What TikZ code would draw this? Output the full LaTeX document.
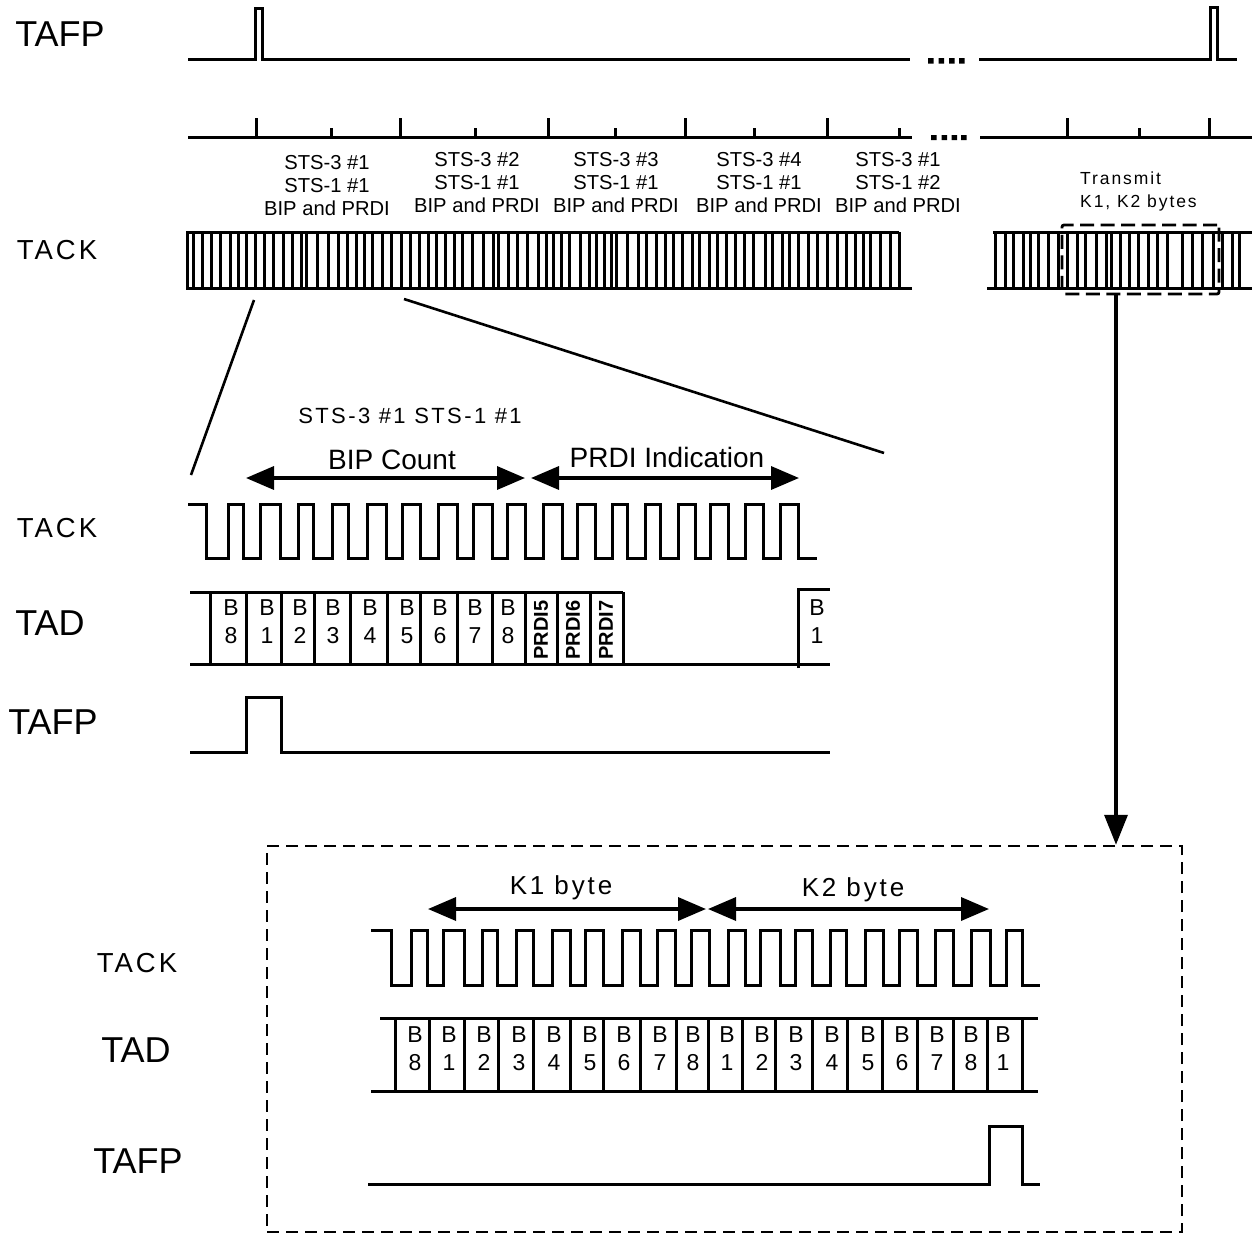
\documentclass[tikz,border=0pt]{standalone}
\usepackage{fontspec}
\setmainfont{Liberation Sans}
\newfontfamily\spacedfont[LetterSpace=11]{Liberation Sans}
\usetikzlibrary{arrows.meta}
\tikzset{
  sig/.style={line width=3pt,line join=miter},
  comb/.style={line width=3pt},
  bigarrow/.style={line width=3.5pt,{Triangle[length=28pt,width=23pt]}-{Triangle[length=28pt,width=23pt]}},
  downarrow/.style={line width=3.5pt,-{Triangle[length=30pt,width=23pt]}},
  siglabel/.style={font=\fontsize{36}{36}\selectfont,inner sep=0pt},
  clklabel/.style={font=\spacedfont\fontsize{27.5}{27.5}\selectfont,inner sep=0pt},
  bitlabel/.style={font=\fontsize{23}{28}\selectfont,align=center,inner sep=0pt},
  prdilabel/.style={font=\fontsize{20}{20}\selectfont\bfseries,rotate=90,inner sep=0pt},
  slotlabel/.style={font=\fontsize{20.2}{23}\selectfont,align=center,inner sep=0pt},
  spanlabel/.style={font=\fontsize{28}{28}\selectfont,inner sep=0pt},
  bytelabel/.style={font=\spacedfont\fontsize{26}{26}\selectfont,inner sep=0pt},
}
\begin{document}
\begin{tikzpicture}[x=1pt,y=-1pt]
  \useasboundingbox (0,0) rectangle (1252,1234);
  \node[siglabel] (tafptop) at (60,34) {TAFP};
  \node[clklabel] (tacktop) at (57,250) {TACK};
  \node[clklabel] (tackmid) at (57,528) {TACK};
  \node[siglabel] (tadmid) at (50,623) {TAD};
  \node[siglabel] (tafpmid) at (53,722) {TAFP};
  \node[clklabel] (tacklow) at (137,963) {TACK};
  \node[siglabel] (tadlow) at (136,1050) {TAD};
  \node[siglabel] (tafplow) at (138,1161) {TAFP};

  \draw[sig] (188,59) -| (255,8) -| (262,59) -- (910,59);
  \draw[sig] (979,59) -| (1210,7) -| (1217,59) -- (1237,59);
  \fill (928,58) rectangle +(5.5,5.5) (938.5,58) rectangle +(5.5,5.5) (949,58) rectangle +(5.5,5.5) (959,58) rectangle +(5.5,5.5);

  \draw[sig] (188,137) -- (912,137);
  \draw[sig] (980,137) -- (1252,137);
  \foreach \xt in {256,400,548,685,827,1067,1209} \draw[sig] (\xt,118) -- (\xt,137);
  \foreach \xt in {331,475,615,754,899,1139} \draw[sig] (\xt,128) -- (\xt,137);
  \fill (931,135) rectangle +(5.5,5) (941.5,135) rectangle +(5.5,5) (951.5,135) rectangle +(5.5,5) (961,135) rectangle +(5.5,5);

  \node[slotlabel] (slota) at (327,185.5) {STS-3 \#1\\STS-1 \#1\\BIP and PRDI};
  \node[slotlabel] (slotb) at (477,183) {STS-3 \#2\\STS-1 \#1\\BIP and PRDI};
  \node[slotlabel] (slotc) at (616,183) {STS-3 \#3\\STS-1 \#1\\BIP and PRDI};
  \node[slotlabel] (slotd) at (759,183) {STS-3 \#4\\STS-1 \#1\\BIP and PRDI};
  \node[slotlabel] (slote) at (898,183) {STS-3 \#1\\STS-1 \#2\\BIP and PRDI};
  \node[font=\spacedfont\fontsize{17.5}{23}\selectfont,align=left,inner sep=0pt,anchor=west] (txlabel) at (1080,191) {Transmit\\K1, K2 bytes};

  \draw[comb] (912,288) -- (187,288) -- (187,232) -- (899,232);
  \foreach \xc in {193,202,211,220,230,238,246,255,264,273,283,292,301,306.5,317,328,338,347,356,364,372,382,391,401,410,419,428,436,445,454,462,472,483,493,498.5,508,517,527,538,546,553,561,569,580,589,596,604,611,616.5,627,638,646,656,665,673,682,692,699.5,709,717,726,735,744,753,765,772.5,782,789.5,798,808,817,827,837,846,855,863,870.5,880,890,899}
    \draw[comb] (\xc,232) -- (\xc,288);
  \draw[comb] (993,232) -- (1252,232);
  \draw[comb] (987,288) -- (1252,288);
  \foreach \xc in {995,1005,1013,1023,1030,1038,1048,1058,1067,1077,1085,1096,1106,1111.5,1120,1129,1138,1148,1157,1167,1182,1192,1202,1213,1222,1232,1239}
    \draw[comb] (\xc,232) -- (\xc,288);

  \node[draw,line width=2.8pt,dash pattern=on 14pt off 6.5pt,rounded corners=2pt,minimum width=157pt,minimum height=69pt,inner sep=0pt] (k12box) at (1140.5,259.5) {};
  \node[draw,line width=2.5pt,dash pattern=on 12pt off 7pt,minimum width=915pt,minimum height=386pt,inner sep=0pt] (lowerbox) at (724.5,1039) {};
  \coordinate (lowerin) at ([xshift=-24.5pt]lowerbox.north -| k12box.south);
  \draw[downarrow] (k12box.south -| lowerin) -- (lowerin);

  \coordinate (zoomla) at (254,300);
  \coordinate (zoomlb) at (191,475);
  \coordinate (zoomra) at (404,299);
  \coordinate (zoomrb) at (884,453);
  \draw[line width=2.6pt] (zoomla) -- (zoomlb);
  \draw[line width=2.6pt] (zoomra) -- (zoomrb);

  \node[font=\spacedfont\fontsize{22}{22}\selectfont,inner sep=0pt] (stsmid) at (410,416) {STS-3 \#1 STS-1 \#1};
  \node[spanlabel] (biplabel) at (392,460) {BIP Count};
  \node[spanlabel] (prdilab) at (667,457) {PRDI Indication};
  \coordinate (bipa) at (246,478);
  \coordinate (bipb) at (525,478);
  \coordinate (prda) at (531,478);
  \coordinate (prdb) at (799,478);
  \draw[bigarrow] (bipa) -- (bipb);
  \draw[bigarrow] (prda) -- (prdb);

  \draw[sig] (188,504) -| (206,558) -| (228,504) -| (243,558) -| (260,504) -| (280,558) -| (298,504) -| (313,558) -| (332,504) -| (348,558) -| (367,504) -| (386,558) -| (402,504) -| (420,558) -| (438,504) -| (457,558) -| (473,504) -| (492,558) -| (507,504) -| (525,558) -| (543,504) -| (562,558) -| (577,504) -| (595,558) -| (612,504) -| (627,558) -| (645,504) -| (660,558) -| (678,504) -| (695,558) -| (710,504) -| (728,558) -| (745,504) -| (763,558) -| (780,504) -| (798,558) -- (817,558);

  \draw[sig] (190,592) -- (623,592);
  \draw[sig] (190,664) -- (830,664);
  \foreach \xd in {210,246,281,314,350,387,420,457,492,525,557,590,623}
    \draw[sig] (\xd,592) -- (\xd,664);
  \draw[sig] (798,668) -- (798,589) -- (830,589);
  \foreach \xb/\bt [count=\i] in {231/8,267/1,300/2,333/3,370/4,407/5,440/6,475/7,508/8,817/1}
    \node[bitlabel] (midbit\i) at (\xb,622) {B\\\bt};
  \node[prdilabel] (prdia) at (541,630) {PRDI5};
  \node[prdilabel] (prdib) at (573,630) {PRDI6};
  \node[prdilabel] (prdic) at (606,630) {PRDI7};

  \draw[sig] (190,752) -| (246,697) -| (281,752) -- (830,752);

  \node[bytelabel] (k1label) at (561,887.5) {K1 byte};
  \node[bytelabel] (k2label) at (853,889.5) {K2 byte};
  \coordinate (kaa) at (428,909);
  \coordinate (kab) at (706,909);
  \coordinate (kba) at (708,909);
  \coordinate (kbb) at (989,909);
  \draw[bigarrow] (kaa) -- (kab);
  \draw[bigarrow] (kba) -- (kbb);

  \draw[sig] (371,930) -| (391,985) -| (411,930) -| (427,985) -| (443,930) -| (464,985) -| (482,930) -| (497,985) -| (516,930) -| (533,985) -| (552,930) -| (570,985) -| (585,930) -| (603,985) -| (622,930) -| (640,985) -| (657,930) -| (675,985) -| (691,930) -| (709,985) -| (728,930) -| (745,985) -| (760,930) -| (780,985) -| (795,930) -| (812,985) -| (830,930) -| (846,985) -| (865,930) -| (883,985) -| (899,930) -| (917,985) -| (935,930) -| (953,985) -| (971,930) -| (990,985) -| (1006,930) -| (1022,985) -- (1040,985);

  \draw[sig] (380,1018) -- (1038,1018);
  \draw[sig] (371,1091) -- (1038,1091);
  \foreach \xd in {395,429,464,498,533,570,603,640,676,708,742,775,812,847,882,917,953,987,1022}
    \draw[sig] (\xd,1018) -- (\xd,1091);
  \foreach \xb/\bt [count=\i] in {415/8,449/1,484/2,519/3,554/4,590/5,624/6,660/7,693/8,727/1,762/2,796/3,832/4,868/5,902/6,937/7,971/8,1003/1}
    \node[bitlabel] (lowbit\i) at (\xb,1049) {B\\\bt};

  \draw[sig] (368,1184) -| (989,1126) -| (1022,1184) -- (1040,1184);
\end{tikzpicture}
\end{document}
